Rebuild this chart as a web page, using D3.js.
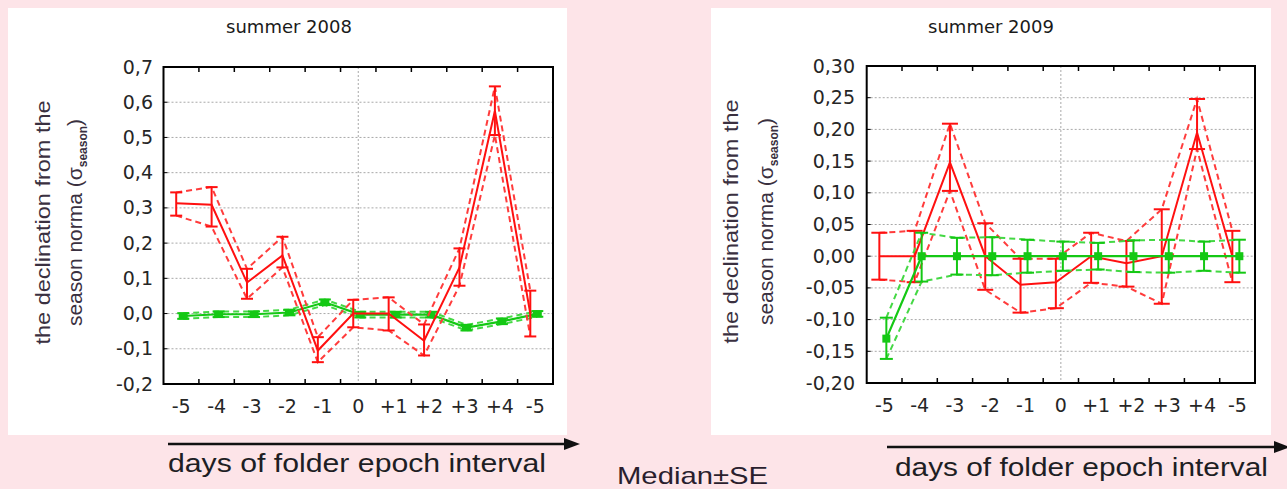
<!DOCTYPE html>
<html>
<head>
<meta charset="utf-8">
<script src="https://cdn.jsdelivr.net/npm/d3@7/dist/d3.min.js"></script>
<style>
  body { margin: 0; background: #fde4e8; }
  svg { display: block; }
</style>
</head>
<body>
<script>
// x categories (days around the epoch)
var days = ['-5', '-4', '-3', '-2', '-1', '0', '+1', '+2', '+3', '+4', '-5'];

// summer 2008
var ticks2008 = [-0.2, -0.1, 0.0, 0.1, 0.2, 0.3, 0.4, 0.5, 0.6, 0.7];
var red2008 = [0.313, 0.309, 0.088, 0.165, -0.105, 0.0, 0.0, -0.077, 0.131, 0.575, 0.0];
var red2008Lo = [0.278, 0.247, 0.042, 0.131, -0.138, -0.039, -0.048, -0.119, 0.079, 0.507, -0.065];
var red2008Hi = [0.344, 0.359, 0.127, 0.218, -0.067, 0.039, 0.046, -0.031, 0.185, 0.645, 0.065];
var green2008 = [-0.007, -0.002, -0.002, 0.003, 0.032, -0.003, -0.003, -0.003, -0.040, -0.022, -0.001];
var green2008Lo = [-0.015, -0.010, -0.010, -0.005, 0.024, -0.011, -0.011, -0.011, -0.048, -0.030, -0.009];
var green2008Hi = [0.001, 0.006, 0.006, 0.011, 0.040, 0.005, 0.005, 0.005, -0.032, -0.014, 0.007];

// summer 2009
var ticks2009 = [-0.20, -0.15, -0.10, -0.05, 0.00, 0.05, 0.10, 0.15, 0.20, 0.25, 0.30];
var red2009 = [0.0, 0.0, 0.148, 0.0, -0.045, -0.041, 0.0, -0.011, 0.0, 0.195, 0.0];
var red2009Lo = [-0.037, -0.041, 0.103, -0.053, -0.089, -0.082, -0.042, -0.048, -0.075, 0.169, -0.041];
var red2009Hi = [0.037, 0.040, 0.209, 0.052, -0.004, -0.004, 0.037, 0.024, 0.074, 0.248, 0.040];
var green2009 = [-0.130, 0.0, 0.0, 0.0, 0.0, 0.0, 0.0, 0.0, 0.0, 0.0, 0.0];
var green2009Lo = [-0.162, -0.040, -0.029, -0.030, -0.026, -0.023, -0.021, -0.025, -0.026, -0.023, -0.026];
var green2009Hi = [-0.097, 0.037, 0.029, 0.030, 0.026, 0.023, 0.021, 0.025, 0.026, 0.023, 0.026];

var RED = '#ff1010';
var GREEN = '#14c814';

var svg = d3.select('body')
    .append('svg')
    .attr('width', 1287)
    .attr('height', 489);

svg.append('rect')
    .attr('width', 1287)
    .attr('height', 489)
    .attr('fill', '#fde4e8');

function drawSeries(g, x, y, s) {
    var cx = function (i) { return x(i) + x.bandwidth() / 2 + s.off; };

    var line = d3.line()
        .x(function (d, i) { return cx(i); })
        .y(function (d) { return y(d); });

    // dashed SE envelopes
    [s.lo, s.hi].forEach(function (arr) {
        g.append('path')
            .attr('d', line(arr))
            .attr('fill', 'none')
            .attr('stroke', s.dashColor)
            .attr('stroke-width', 2)
            .attr('stroke-dasharray', '6,4');
    });

    g.append('path')
        .attr('d', line(s.mid))
        .attr('fill', 'none')
        .attr('stroke', s.color)
        .attr('stroke-width', s.width);

    var bars = g.selectAll(null)
        .data(s.mid)
        .enter()
        .append('g')
        .attr('stroke', s.color)
        .attr('stroke-width', 2);

    bars.append('line')
        .attr('x1', function (d, i) { return cx(i); })
        .attr('x2', function (d, i) { return cx(i); })
        .attr('y1', function (d, i) { return y(s.lo[i]); })
        .attr('y2', function (d, i) { return y(s.hi[i]); });

    [s.lo, s.hi].forEach(function (arr) {
        bars.append('line')
            .attr('x1', function (d, i) { return cx(i) - s.cap / 2; })
            .attr('x2', function (d, i) { return cx(i) + s.cap / 2; })
            .attr('y1', function (d, i) { return y(arr[i]); })
            .attr('y2', function (d, i) { return y(arr[i]); });
    });

    if (s.marker) {
        g.selectAll(null)
            .data(s.mid)
            .enter()
            .append('rect')
            .attr('x', function (d, i) { return cx(i) - s.marker[0] / 2; })
            .attr('y', function (d) { return y(d) - s.marker[1] / 2; })
            .attr('width', s.marker[0])
            .attr('height', s.marker[1])
            .attr('fill', s.color);
    }
}

function drawPanel(o) {
    var g = svg.append('g');

    g.append('rect')
        .attr('x', o.panel[0])
        .attr('y', o.panel[1])
        .attr('width', o.panel[2])
        .attr('height', o.panel[3])
        .attr('fill', '#fff');

    var x = d3.scaleBand()
        .domain(d3.range(days.length))
        .range([o.fx0, o.fx1]);

    var y = d3.scaleLinear()
        .domain([o.ticks[0], o.ticks[o.ticks.length - 1]])
        .range([o.fy1, o.fy0]);

    // dotted grid
    g.selectAll(null)
        .data(o.ticks.slice(1, -1))
        .enter()
        .append('line')
        .attr('x1', o.fx0).attr('x2', o.fx1)
        .attr('y1', function (d) { return y(d); })
        .attr('y2', function (d) { return y(d); })
        .attr('stroke', '#a8a8a8')
        .attr('stroke-dasharray', '2,2');

    var zx = x(5) + x.bandwidth() / 2;
    g.append('line')
        .attr('x1', zx).attr('x2', zx)
        .attr('y1', o.fy0).attr('y2', o.fy1)
        .attr('stroke', '#a8a8a8')
        .attr('stroke-dasharray', '2,2');

    // inward ticks at band edges and y ticks
    var edges = d3.range(1, days.length);
    g.selectAll(null).data(edges).enter().append('line')
        .attr('x1', function (i) { return x(i); })
        .attr('x2', function (i) { return x(i); })
        .attr('y1', o.fy0).attr('y2', o.fy0 + 5)
        .attr('stroke', '#000').attr('stroke-width', 1.5);
    g.selectAll(null).data(edges).enter().append('line')
        .attr('x1', function (i) { return x(i); })
        .attr('x2', function (i) { return x(i); })
        .attr('y1', o.fy1).attr('y2', o.fy1 - 5)
        .attr('stroke', '#000').attr('stroke-width', 1.5);
    g.selectAll(null).data(o.ticks.slice(1, -1)).enter().append('line')
        .attr('x1', o.fx0).attr('x2', o.fx0 + 4)
        .attr('y1', function (d) { return y(d); })
        .attr('y2', function (d) { return y(d); })
        .attr('stroke', '#000');

    var series = [
        { mid: o.red, lo: o.redLo, hi: o.redHi, color: RED, dashColor: '#ff3c3c', width: 2, off: -5, cap: o.redCap },
        { mid: o.green, lo: o.greenLo, hi: o.greenHi, color: GREEN, dashColor: '#44d844', width: 2.2, off: 2, cap: o.greenCap, marker: o.marker }
    ];
    if (o.redOnTop) series.reverse();
    series.forEach(function (s) { drawSeries(g, x, y, s); });

    g.append('rect')
        .attr('x', o.fx0).attr('y', o.fy0)
        .attr('width', o.fx1 - o.fx0)
        .attr('height', o.fy1 - o.fy0)
        .attr('fill', 'none')
        .attr('stroke', '#000')
        .attr('stroke-width', 2);

    // tick labels (plain hyphen for minus, comma decimals)
    var yAxis = d3.axisLeft(y)
        .tickValues(o.ticks)
        .tickFormat(function (d) { return o.fmt(d).replace('.', ',').replace('\u2212', '-'); })
        .tickSize(0)
        .tickPadding(0);
    var ya = g.append('g')
        .attr('transform', 'translate(' + o.labelRight + ',0)')
        .call(yAxis);
    ya.select('.domain').remove();

    var xAxis = d3.axisBottom(x)
        .tickFormat(function (i) { return days[i]; })
        .tickSize(0)
        .tickPadding(0);
    var xa = g.append('g')
        .attr('transform', 'translate(0,' + (o.fy1 + 15) + ')')
        .call(xAxis);
    xa.select('.domain').remove();

    g.selectAll('.tick text')
        .attr('font-family', 'DejaVu Sans, sans-serif')
        .attr('font-size', 19)
        .attr('fill', '#262626');

    g.append('text')
        .attr('x', o.titleX)
        .attr('y', 33)
        .attr('text-anchor', 'middle')
        .attr('font-family', 'DejaVu Sans, sans-serif')
        .attr('font-size', 18)
        .attr('fill', '#1a1a1a')
        .text(o.title);

    // rotated y label, two lines
    var cy = (o.fy0 + o.fy1) / 2 - 3;
    g.append('text')
        .attr('transform', 'translate(' + o.lab1 + ',' + cy + ') rotate(-90)')
        .attr('text-anchor', 'middle')
        .attr('font-family', 'Liberation Sans, Arial, sans-serif')
        .attr('font-size', 21)
        .attr('fill', '#3a3040')
        .attr('textLength', 244)
        .attr('lengthAdjust', 'spacingAndGlyphs')
        .text('the declination from the');

    var t2 = g.append('text')
        .attr('transform', 'translate(' + o.lab2 + ',' + cy + ') rotate(-90)')
        .attr('text-anchor', 'middle')
        .attr('font-family', 'Liberation Sans, Arial, sans-serif')
        .attr('font-size', 21)
        .attr('fill', '#3a3040');
    t2.append('tspan').text('season norma (σ');
    t2.append('tspan').attr('font-size', 12).attr('font-weight', 'bold').attr('dy', 5).text('season');
    t2.append('tspan').attr('dy', -5).text(')');

    // arrow with axis caption
    g.append('line')
        .attr('x1', o.arrow[0]).attr('x2', o.arrow[1] - 10)
        .attr('y1', o.arrow[2]).attr('y2', o.arrow[2])
        .attr('stroke', '#111')
        .attr('stroke-width', 2.5);
    g.append('path')
        .attr('d', 'M' + (o.arrow[1] - 16) + ',' + (o.arrow[2] - 6) +
            'L' + o.arrow[1] + ',' + o.arrow[2] +
            'L' + (o.arrow[1] - 16) + ',' + (o.arrow[2] + 6) + 'Z')
        .attr('fill', '#111');

    g.append('text')
        .attr('x', o.caption[0])
        .attr('y', o.caption[1])
        .attr('font-family', 'Liberation Sans, Arial, sans-serif')
        .attr('font-size', 25)
        .attr('fill', '#1e1e24')
        .attr('textLength', o.caption[2])
        .attr('lengthAdjust', 'spacingAndGlyphs')
        .text('days of folder epoch interval');
}

drawPanel({
    panel: [8, 8, 559, 427],
    fx0: 163.5, fx1: 553, fy0: 67, fy1: 384,
    ticks: ticks2008, fmt: d3.format('.1f'),
    red: red2008, redLo: red2008Lo, redHi: red2008Hi,
    green: green2008, greenLo: green2008Lo, greenHi: green2008Hi,
    redCap: 12, greenCap: 12, marker: [9, 7], redOnTop: true,
    labelRight: 153, titleX: 289, title: 'summer 2008',
    lab1: 50, lab2: 82,
    arrow: [168, 580, 444],
    caption: [168, 472, 378]
});

drawPanel({
    panel: [711, 8, 560, 427],
    fx0: 866.7, fx1: 1255, fy0: 66, fy1: 383,
    ticks: ticks2009, fmt: d3.format('.2f'),
    red: red2009, redLo: red2009Lo, redHi: red2009Hi,
    green: green2009, greenLo: green2009Lo, greenHi: green2009Hi,
    redCap: 16, greenCap: 13, marker: [8, 8], redOnTop: false,
    labelRight: 855, titleX: 991, title: 'summer 2009',
    lab1: 738, lab2: 773,
    arrow: [887, 1290, 447],
    caption: [895, 476, 373]
});

svg.append('text')
    .attr('x', 617)
    .attr('y', 484)
    .attr('font-family', 'Liberation Sans, Arial, sans-serif')
    .attr('font-size', 24)
    .attr('fill', '#2a1e2e')
    .attr('textLength', 151)
    .attr('lengthAdjust', 'spacingAndGlyphs')
    .text('Median±SE');
</script>
</body>
</html>
